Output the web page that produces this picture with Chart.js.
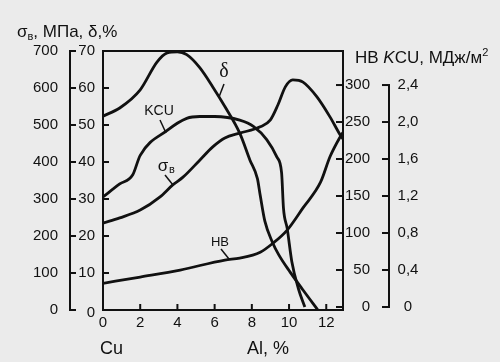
<!DOCTYPE html>
<html>
<head>
    <title>Cu-Al properties</title>
    <script src="https://cdn.jsdelivr.net/npm/chart.js"></script>
    <style>
        body { margin: 0; background: #ebebeb; }
        #wrap { width: 500px; height: 362px; }
    </style>
</head>
<body>
    <div id="wrap"><canvas id="alloyChart"></canvas></div>

    <script>
        // Al content, % (x) and property values
        const deltaAl = [0, 0.9, 2.0, 2.9, 3.45, 4.0, 4.5, 5.2, 5.9, 6.55, 7.35, 7.9, 8.3, 8.45, 8.7, 9.1, 9.45, 10.05, 10.75, 11.55];
        const deltaVal = [52.4, 54.6, 59.5, 67, 69.5, 69.8, 69, 65.5, 60.3, 55, 47.8, 40.5, 35.5, 31, 24, 18.4, 14.9, 10.3, 5.4, 0];

        const sigmaAl = [0, 0.9, 2.0, 3.05, 3.75, 4.3, 5.2, 5.9, 6.55, 7.35, 8.45, 9.0, 9.4, 9.8, 10.2, 10.75, 11.5, 12.2, 12.75, 12.9];
        const sigmaVal = [235, 249, 270, 305, 338, 359, 405, 441, 465, 478, 495, 514, 554, 603, 622, 616, 576, 522, 473, 462];

        const kcuAl = [0, 0.9, 1.6, 2.0, 3.45, 4.5, 5.2, 6.0, 7.35, 8.1, 8.8, 9.35, 9.6, 9.7, 9.9, 10.15, 10.5, 10.85];
        const kcuVal = [1.19, 1.33, 1.43, 1.64, 1.91, 2.04, 2.06, 2.06, 2.02, 1.95, 1.81, 1.62, 1.45, 1.07, 0.85, 0.49, 0.2, 0];

        const hbAl = [0, 2.0, 4.15, 6.55, 7.35, 8.45, 9.15, 9.9, 10.75, 11.7, 12.2, 12.75, 12.9];
        const hbVal = [32, 40.5, 50, 63.5, 66, 74, 86.5, 104, 134, 169, 203, 230, 236];

        // tick labels
        const alTicks = [0, 2, 4, 6, 8, 10, 12];
        const sigmaTicks = [0, 100, 200, 300, 400, 500, 600, 700];
        const deltaTicks = [0, 10, 20, 30, 40, 50, 60, 70];
        const hbTicks = [0, 50, 100, 150, 200, 250, 300];
        const kcuTicks = [0, 0.4, 0.8, 1.2, 1.6, 2.0, 2.4];

        const pts = (xs, ys) => xs.map((x, i) => ({ x: x, y: ys[i] }));
        const ink = '#111';
        const sans = 'Liberation Sans, Arial, sans-serif';

        // old-style axes: inward ticks, detached sigma and KCU axes
        const oldAxes = {
            id: 'oldAxes',
            afterDatasetsDraw(chart) {
                const { ctx, chartArea: a, scales } = chart;
                const sx = scales.x, sd = scales.yd, ss = scales.ys, sh = scales.yh, sk = scales.yk;
                ctx.save();
                ctx.strokeStyle = ink;
                ctx.fillStyle = ink;
                ctx.lineWidth = 2;

                // frame
                ctx.strokeRect(a.left, a.top, a.right - a.left, a.bottom - a.top);

                ctx.font = '15px ' + sans;
                ctx.textBaseline = 'middle';

                // x axis
                ctx.textAlign = 'center';
                alTicks.forEach(v => {
                    const px = sx.getPixelForValue(v);
                    ctx.beginPath(); ctx.moveTo(px, a.bottom); ctx.lineTo(px, a.bottom - 6); ctx.stroke();
                    ctx.fillText(String(v), px, 323);
                });

                // delta axis (frame left)
                ctx.textAlign = 'right';
                deltaTicks.forEach(v => {
                    const py = sd.getPixelForValue(v);
                    ctx.beginPath(); ctx.moveTo(a.left, py); ctx.lineTo(a.left + 6, py); ctx.stroke();
                    ctx.fillText(String(v), 95, py + (v === 0 ? 3 : 0));
                });

                // sigma axis
                const sxLine = 70;
                ctx.beginPath();
                ctx.moveTo(sxLine, ss.getPixelForValue(700));
                ctx.lineTo(sxLine, ss.getPixelForValue(0));
                ctx.stroke();
                sigmaTicks.forEach(v => {
                    const py = ss.getPixelForValue(v);
                    ctx.beginPath(); ctx.moveTo(sxLine - 1, py); ctx.lineTo(sxLine + 6, py); ctx.stroke();
                    ctx.fillText(String(v), 58, py);
                });

                // HB axis (frame right)
                hbTicks.forEach(v => {
                    const py = sh.getPixelForValue(v);
                    ctx.beginPath(); ctx.moveTo(a.right, py); ctx.lineTo(a.right - 7, py); ctx.stroke();
                    ctx.fillText(String(v), 370, py);
                });

                // KCU axis
                const kxLine = 389;
                ctx.beginPath();
                ctx.moveTo(kxLine, sk.getPixelForValue(2.4));
                ctx.lineTo(kxLine, sk.getPixelForValue(0));
                ctx.stroke();
                ctx.textAlign = 'center';
                kcuTicks.forEach(v => {
                    const py = sk.getPixelForValue(v);
                    ctx.beginPath(); ctx.moveTo(kxLine + 1, py); ctx.lineTo(kxLine - 7, py); ctx.stroke();
                    const txt = v === 0 ? '0' : v.toFixed(1).replace('.', ',');
                    ctx.fillText(txt, 408, py);
                });

                // axis titles
                ctx.textBaseline = 'alphabetic';
                ctx.textAlign = 'left';
                ctx.font = '17px ' + sans;
                let x = 17;
                ctx.fillText('σ', x, 37); x += ctx.measureText('σ').width;
                ctx.font = '11px ' + sans;
                ctx.fillText('в', x, 40); x += ctx.measureText('в').width;
                ctx.font = '17px ' + sans;
                ctx.fillText(', МПа, δ,%', x, 37);

                x = 355;
                ctx.fillText('HB ', x, 63); x += ctx.measureText('HB ').width;
                ctx.font = 'italic 17px ' + sans;
                ctx.fillText('K', x, 63); x += ctx.measureText('K').width;
                ctx.font = '17px ' + sans;
                ctx.fillText('CU, МДж/м', x, 63); x += ctx.measureText('CU, МДж/м').width;
                ctx.font = '11px ' + sans;
                ctx.fillText('2', x, 56);

                ctx.font = '18px ' + sans;
                ctx.fillText('Cu', 100, 354);
                ctx.fillText('Al, %', 247, 354);

                // curve labels with leaders
                const lead = (x1, y1, x2, y2) => {
                    ctx.lineWidth = 1.5;
                    ctx.beginPath(); ctx.moveTo(x1, y1); ctx.lineTo(x2, y2); ctx.stroke();
                };
                ctx.textAlign = 'center';
                ctx.textBaseline = 'middle';
                ctx.font = '20px Liberation Serif, serif';
                ctx.fillText('δ', 224, 72);
                lead(224, 84, 219, 97);

                ctx.font = '14px ' + sans;
                ctx.fillText('KCU', 159, 111);
                lead(160, 120, 166, 133);

                ctx.font = '17px ' + sans;
                ctx.fillText('σ', 163, 166);
                ctx.font = '11px ' + sans;
                ctx.fillText('в', 172, 170);
                lead(165, 175, 173, 185);

                ctx.font = '13px ' + sans;
                ctx.fillText('HB', 220, 242);
                lead(221, 249, 229, 259);

                ctx.restore();
            }
        };

        const line = (data, axis) => ({
            data: data,
            yAxisID: axis,
            borderColor: ink,
            borderWidth: 2.8,
            pointRadius: 0,
            fill: false,
            tension: 0.4,
            cubicInterpolationMode: 'monotone'
        });

        const hbMin = -4.05, hbMax = 346;

        new Chart(document.getElementById('alloyChart'), {
            type: 'line',
            data: {
                datasets: [
                    line(pts(deltaAl, deltaVal), 'yd'),
                    line(pts(sigmaAl, sigmaVal), 'ys'),
                    line(pts(kcuAl, kcuVal), 'yk'),
                    line(pts(hbAl, hbVal), 'yh')
                ]
            },
            options: {
                responsive: true,
                maintainAspectRatio: false,
                animation: false,
                layout: { padding: { left: 103, right: 157, top: 51, bottom: 52 } },
                plugins: { legend: { display: false }, tooltip: { enabled: false } },
                scales: {
                    x: { type: 'linear', min: 0, max: 12.9, display: false },
                    yd: { type: 'linear', min: 0, max: 70, display: false },
                    ys: { type: 'linear', min: 0, max: 700, display: false },
                    yh: { type: 'linear', min: hbMin, max: hbMax, display: false },
                    yk: { type: 'linear', min: hbMin / 125, max: hbMax / 125, display: false }
                }
            },
            plugins: [oldAxes]
        });
    </script>
</body>
</html>
